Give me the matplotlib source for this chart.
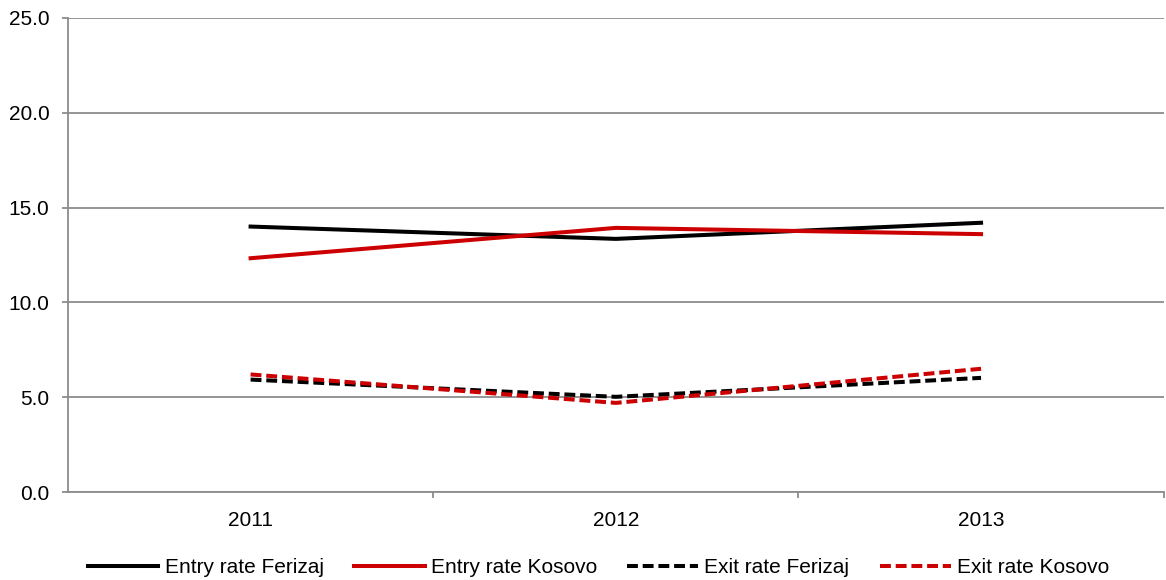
import matplotlib
matplotlib.use('Agg')
import matplotlib.pyplot as plt
import numpy as np

plt.rcParams['font.family'] = ['Liberation Sans', 'DejaVu Sans']

years = ['2011', '2012', '2013']
entry_ferizaj = [14.0, 13.35, 14.2]
entry_kosovo = [12.33, 13.93, 13.6]
exit_ferizaj = [5.93, 5.02, 6.02]
exit_kosovo = [6.2, 4.7, 6.5]

red = '#CC0000'
grid_col = '#8C8C8C'

fig = plt.figure(figsize=(11.66, 5.8), dpi=100)
ax = fig.add_axes([0.0583, 0.1517, 0.9397, 0.8173])

x = np.arange(len(years))
lw = 2.9
ax.plot(x, entry_ferizaj, color='black', lw=lw, label='Entry rate Ferizaj')
ax.plot(x, entry_kosovo, color=red, lw=lw, label='Entry rate Kosovo')
ax.plot(x, exit_ferizaj, color='black', lw=lw, dashes=(2.7, 1.2), label='Exit rate Ferizaj')
ax.plot(x, exit_kosovo, color=red, lw=lw, dashes=(2.7, 1.2), label='Exit rate Kosovo')

ax.set_xlim(-0.5, 2.5)
ax.set_ylim(0, 25)
ax.set_yticks(np.arange(0, 26, 5))
ax.set_yticklabels([f'{v:.1f}' for v in np.arange(0, 26, 5)])
ax.set_xticks(x)
ax.set_xticklabels(years)
ax.set_xticks([0.5, 1.5, 2.5], minor=True)

ax.yaxis.grid(True, color=grid_col, lw=1.3)
ax.set_axisbelow(True)
for s in ['top', 'right']:
    ax.spines[s].set_visible(False)
for s in ['left', 'bottom']:
    ax.spines[s].set_color(grid_col)
    ax.spines[s].set_linewidth(1.3)

ax.tick_params(axis='y', length=4.3, color=grid_col, width=1.3, labelsize=15, pad=9)
ax.tick_params(axis='x', which='major', length=0, labelsize=15, pad=14)
ax.tick_params(axis='x', which='minor', length=4.3, color=grid_col, width=1.3)

ax.legend(loc='lower center', bbox_to_anchor=(0.484, -0.197), ncol=4, frameon=False,
          fontsize=15, handlelength=3.4, handletextpad=0.3, columnspacing=1.45,
          borderaxespad=0)

fig.savefig('out.png', dpi=100)
